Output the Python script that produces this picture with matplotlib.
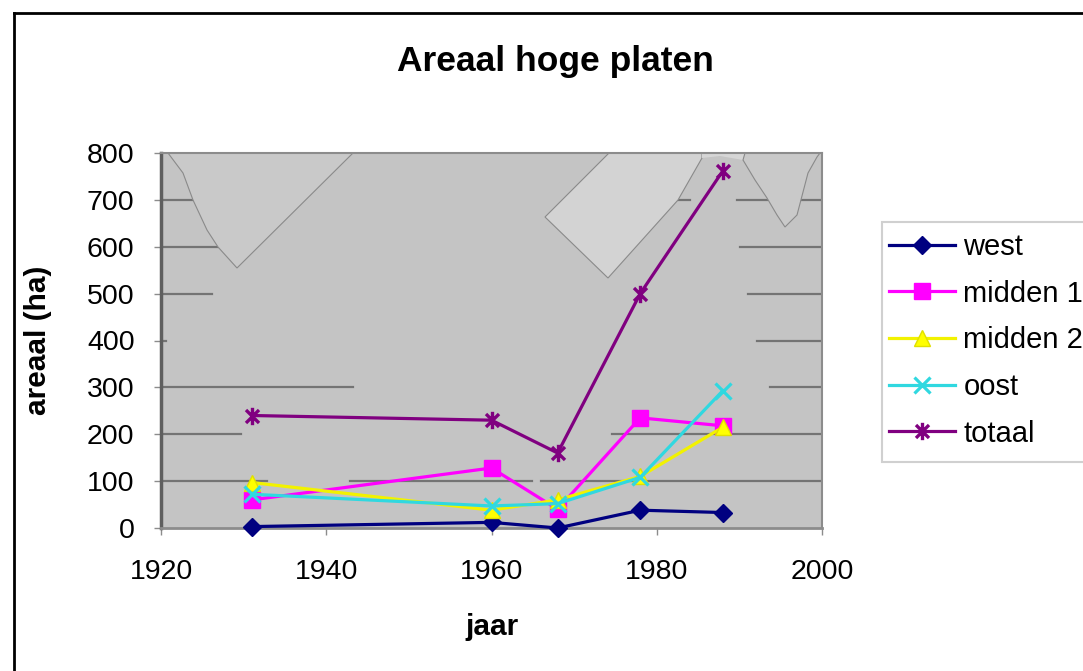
import matplotlib
matplotlib.use("Agg")
import matplotlib.pyplot as plt
from matplotlib.path import Path
from matplotlib.patches import Polygon, Rectangle
from matplotlib.lines import Line2D

plt.rcParams['font.family'] = ['Liberation Sans', 'DejaVu Sans']

# ---- data -------------------------------------------------------------
years = [1931, 1960, 1968, 1978, 1988]
west = [3, 12, 0, 38, 33]
midden1 = [60, 128, 40, 235, 218]
midden2 = [97, 38, 60, 110, 215]
oost = [72, 47, 52, 108, 293]
totaal = [240, 230, 160, 500, 762]

series_names = ["west", "midden 1", "midden 2", "oost", "totaal"]
x_ticks = [1920, 1940, 1960, 1980, 2000]
y_ticks = [0, 100, 200, 300, 400, 500, 600, 700, 800]

title = "Areaal hoge platen"
x_label = "jaar"
y_label = "areaal (ha)"

# ---- figure -----------------------------------------------------------
W, H = 1083, 671
fig = plt.figure(figsize=(W / 100, H / 100), dpi=100)
fig.patch.set_facecolor("white")

# plot area in pixel terms
L, R, T, B = 161, 822, 153, 528
ax = fig.add_axes([L / W, 1 - B / H, (R - L) / W, (B - T) / H])
ax.set_facecolor("#c4c4c4")
ax.set_xlim(1920, 2000)
ax.set_ylim(0, 800)


def axfrac(px, py):
    return ((px - L) / (R - L), (B - py) / (B - T))


# gridlines (broken where the area is washed out)
grid_segments = {
    700: [(161, 195), (678, 690), (737, 767), (798, 822)],
    600: [(161, 218), (740, 822)],
    500: [(161, 212), (748, 822)],
    400: [(161, 166), (757, 822)],
    300: [(161, 353), (770, 822)],
    200: [(161, 241), (612, 822)],
    100: [(161, 267), (350, 532), (541, 822)],
}
for yv, segs in grid_segments.items():
    for a, b in segs:
        ax.axhline(yv, xmin=(a - L) / (R - L), xmax=(b - L) / (R - L),
                   color="#747474", lw=1.6, zorder=1)

# light washed-out patches over the plot area
v1 = [(168, 153), (183, 173), (193, 200), (207, 230), (218, 247), (237, 268), (353, 153)]
quad = [(545, 217), (609, 153), (702, 153), (702, 158), (678, 200), (608, 278)]
bump = [(702, 153), (745, 153), (743, 160), (720, 156), (702, 158)]
v2 = [(743, 160), (755, 180), (767, 198), (777, 215), (785, 227), (797, 215),
      (808, 173), (817, 157), (820, 153), (745, 153)]
ax.add_patch(Polygon([axfrac(*p) for p in v1], closed=True, transform=ax.transAxes,
                     facecolor="#c9c9c9", edgecolor="#8a8a8a", lw=0.8, zorder=1.5))
ax.add_patch(Polygon([axfrac(*p) for p in quad], closed=True, transform=ax.transAxes,
                     facecolor="#d3d3d3", edgecolor="#8a8a8a", lw=0.8, zorder=1.5))
ax.add_patch(Polygon([axfrac(*p) for p in bump], closed=True, transform=ax.transAxes,
                     facecolor="#d6d6d6", edgecolor="none", lw=0, zorder=1.5))
ax.add_patch(Polygon([axfrac(*p) for p in v2], closed=True, transform=ax.transAxes,
                     facecolor="#c9c9c9", edgecolor="#8a8a8a", lw=0.8, zorder=1.5))

# asterisk marker: vertical stroke plus an X
star = Path([(0, -1), (0, 1), (-0.75, -0.75), (0.75, 0.75), (-0.75, 0.75), (0.75, -0.75)],
            [Path.MOVETO, Path.LINETO, Path.MOVETO, Path.LINETO, Path.MOVETO, Path.LINETO])

lw = 2.3
ax.plot(years, west, color="#000080", lw=lw, marker="D", ms=9.5, mfc="#000080",
        mec="#000080", label=series_names[0], zorder=3, clip_on=False)
ax.plot(years, midden1, color="#ff00ff", lw=lw, marker="s", ms=11, mfc="#ff00ff",
        mec="#ff00ff", label=series_names[1], zorder=3, clip_on=False)
ax.plot(years, midden2, color="#f2f200", lw=lw, marker="^", ms=12, mfc="#ffff00",
        mec="#e0e000", label=series_names[2], zorder=3, clip_on=False)
ax.plot(years, oost, color="#30d8e0", lw=lw, marker="x", ms=11.5, mew=2.3,
        mec="#30d8e0", label=series_names[3], zorder=3, clip_on=False)
ax.plot(years, totaal, color="#800080", lw=lw, marker=star, ms=12.5, mew=2.4,
        mec="#800080", label=series_names[4], zorder=3, clip_on=False)

# axes styling
for side in ["top", "right"]:
    ax.spines[side].set_color("#8c8c8c")
    ax.spines[side].set_linewidth(1.5)
ax.spines["left"].set_color("#5f5f5f")
ax.spines["left"].set_linewidth(2.5)
ax.spines["bottom"].set_color("#8c8c8c")
ax.spines["bottom"].set_linewidth(2)

ax.set_xticks(x_ticks)
ax.set_yticks(y_ticks)
ax.tick_params(axis="x", length=5, width=1, color="#8c8c8c", pad=17, labelsize=20.5)
ax.tick_params(axis="y", length=5, width=1, color="#8c8c8c", pad=14, labelsize=20.5)

fig.text(555 / W, 1 - 61 / H, title, ha="center", va="center",
         fontsize=25.5, fontweight="bold")
fig.text(492 / W, 1 - 627 / H, x_label, ha="center", va="center",
         fontsize=21.5, fontweight="bold")
fig.text(38 / W, 1 - 340 / H, y_label, ha="center", va="center",
         fontsize=21.5, fontweight="bold", rotation=90)

# legend box
fig.patches.append(Rectangle((882 / W, 1 - 462 / H), 300 / W, 240 / H,
                             transform=fig.transFigure, facecolor="white",
                             edgecolor="#d0d0d0", lw=1.5, zorder=0))
leg = fig.legend(loc="upper left", bbox_to_anchor=(889 / W, 1 - 233 / H),
                 frameon=False, fontsize=21, handlelength=2.25,
                 handletextpad=0.3, labelspacing=0.64, borderaxespad=0,
                 borderpad=0)

# outer chart border
fig.add_artist(Line2D([14 / W, 14 / W], [0, 1 - 13 / H], transform=fig.transFigure,
                      color="black", lw=2))
fig.add_artist(Line2D([14 / W, 1], [1 - 13 / H, 1 - 13 / H], transform=fig.transFigure,
                      color="black", lw=2))

fig.savefig("out.png", dpi=100)
